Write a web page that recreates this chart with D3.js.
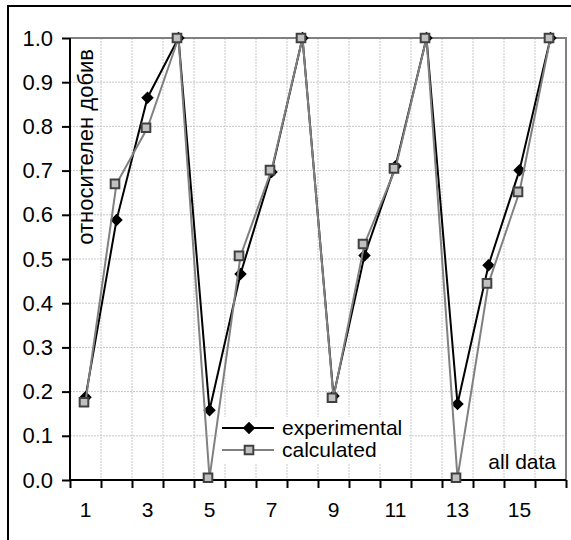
<!DOCTYPE html>
<html lang="bg">
<head>
<meta charset="UTF-8">
<title>относителен добив</title>
<script src="https://d3js.org/d3.v7.min.js"></script>
<style>
    body { margin: 0; background: #fff; }
    svg text { font-family: Arial, "Liberation Sans", sans-serif; fill: #000; }
</style>
</head>
<body>
<div id="chart"></div>
<script>
    // data
    const categories = d3.range(1, 17);
    const experimental = [0.187, 0.588, 0.865, 1.0, 0.158, 0.466, 0.697, 1.0,
                          0.19, 0.508, 0.71, 1.0, 0.172, 0.486, 0.701, 1.0];
    const calculated = [0.176, 0.67, 0.797, 1.0, 0.005, 0.507, 0.701, 1.0,
                        0.186, 0.534, 0.705, 1.0, 0.005, 0.445, 0.652, 1.0];
    const xLabels = [1, 3, 5, 7, 9, 11, 13, 15];
    const yTicks = d3.range(0, 11).map(d => d / 10);

    const width = 571, height = 540;
    const plotLeft = 70, plotRight = 566, plotTop = 38, plotBottom = 480;

    const svg = d3.select("#chart").append("svg")
        .attr("width", width)
        .attr("height", height);

    // outer frame (runs off the right and bottom edges)
    svg.append("rect")
        .attr("x", 8).attr("y", 6)
        .attr("width", 600).attr("height", 600)
        .attr("fill", "none")
        .attr("stroke", "#000")
        .attr("stroke-width", 2);

    const x = d3.scaleBand().domain(categories).range([plotLeft, plotRight]).padding(0);
    const xEdges = d3.scaleLinear().domain([0, 16]).range([plotLeft, plotRight]);
    const y = d3.scaleLinear().domain([0, 1]).range([plotBottom, plotTop]);

    // grid
    const grid = svg.append("g")
        .attr("stroke", "#c8c8c8")
        .attr("stroke-width", 1)
        .attr("stroke-dasharray", "2,1");
    grid.selectAll(".gx").data(d3.range(1, 16)).join("line")
        .attr("x1", d => xEdges(d)).attr("x2", d => xEdges(d))
        .attr("y1", plotTop).attr("y2", plotBottom);
    grid.selectAll(".gy").data(yTicks.slice(1, 10)).join("line")
        .attr("x1", plotLeft).attr("x2", plotRight)
        .attr("y1", d => y(d)).attr("y2", d => y(d));

    // plot border top and right
    svg.append("path")
        .attr("d", `M${plotLeft},${y(1)}H${plotRight}V${plotBottom}`)
        .attr("fill", "none")
        .attr("stroke", "#808080")
        .attr("stroke-width", 2);

    // legend box (white, hides grid)
    const legend = svg.append("g").attr("transform", "translate(218,417)");
    legend.append("rect")
        .attr("width", 190).attr("height", 46)
        .attr("fill", "#fff");

    // axes
    const yAxis = svg.append("g")
        .attr("transform", `translate(${plotLeft},0)`)
        .call(d3.axisLeft(y).tickValues(yTicks).tickFormat(d3.format(".1f")).tickSize(8).tickPadding(9));
    yAxis.select(".domain").remove();
    yAxis.selectAll("line").attr("stroke", "#000").attr("stroke-width", 2);
    yAxis.selectAll("text").attr("font-size", 22).style("font-family", "Arial, 'Liberation Sans', sans-serif");

    const xTicks = svg.append("g")
        .attr("transform", `translate(0,${plotBottom})`)
        .call(d3.axisBottom(xEdges).tickValues(d3.range(0, 17)).tickFormat("").tickSize(8));
    xTicks.select(".domain").remove();
    xTicks.selectAll("line").attr("stroke", "#000").attr("stroke-width", 2);

    const xAxis = svg.append("g")
        .attr("transform", `translate(0,${plotBottom})`)
        .call(d3.axisBottom(x).tickValues(xLabels).tickSize(0).tickPadding(22));
    xAxis.select(".domain").remove();
    xAxis.selectAll("text").attr("font-size", 21).style("font-family", "Arial, 'Liberation Sans', sans-serif");

    svg.append("line")
        .attr("x1", plotLeft).attr("x2", plotLeft).attr("y1", plotTop).attr("y2", plotBottom + 1)
        .attr("stroke", "#000").attr("stroke-width", 2);
    svg.append("line")
        .attr("x1", plotLeft - 1).attr("x2", plotRight).attr("y1", plotBottom).attr("y2", plotBottom)
        .attr("stroke", "#000").attr("stroke-width", 2);

    const cx = d => x(d) + x.bandwidth() / 2;
    const line = d3.line().x(d => cx(d[0])).y(d => y(d[1]));
    const diamond = d3.symbol().type(d3.symbolDiamond2).size(100);
    const square = d3.symbol().type(d3.symbolSquare2).size(95);

    const expData = categories.map((c, i) => [c, experimental[i]]);
    const calcData = categories.map((c, i) => [c, calculated[i]]);

    // experimental series
    svg.append("path").datum(expData)
        .attr("d", line)
        .attr("fill", "none")
        .attr("stroke", "#000")
        .attr("stroke-width", 2);
    svg.selectAll(".exp").data(expData).join("path")
        .attr("transform", d => `translate(${cx(d[0])},${y(d[1])})`)
        .attr("d", diamond)
        .attr("fill", "#000");

    // calculated series
    svg.append("path").datum(calcData)
        .attr("d", line)
        .attr("fill", "none")
        .attr("stroke", "#808080")
        .attr("stroke-width", 2);
    svg.selectAll(".calc").data(calcData).join("path")
        .attr("transform", d => `translate(${cx(d[0]) - 1.5},${y(d[1])})`)
        .attr("d", square)
        .attr("fill", "#c0c0c0")
        .attr("stroke", "#404040")
        .attr("stroke-width", 2);

    // legend entries
    const entries = [
        { name: "experimental", stroke: "#000", symbol: diamond, fill: "#000", mstroke: "none" },
        { name: "calculated", stroke: "#808080", symbol: square, fill: "#c0c0c0", mstroke: "#404040" }
    ];
    entries.forEach((e, i) => {
        const g = legend.append("g").attr("transform", `translate(0,${11 + i * 22})`);
        g.append("line").attr("x1", 4).attr("x2", 56)
            .attr("stroke", e.stroke).attr("stroke-width", 2);
        g.append("path").attr("transform", "translate(31,0)")
            .attr("d", e.symbol)
            .attr("fill", e.fill)
            .attr("stroke", e.mstroke)
            .attr("stroke-width", 2);
        g.append("text").attr("x", 64).attr("y", 7)
            .attr("font-size", 21)
            .text(e.name);
    });

    // y title inside plot
    svg.append("text")
        .attr("transform", "translate(93,49) rotate(-90)")
        .attr("text-anchor", "end")
        .attr("font-size", 22)
        .text("относителен добив");

    svg.append("text")
        .attr("x", 556).attr("y", 469)
        .attr("text-anchor", "end")
        .attr("font-size", 21)
        .text("all data");
</script>
</body>
</html>
